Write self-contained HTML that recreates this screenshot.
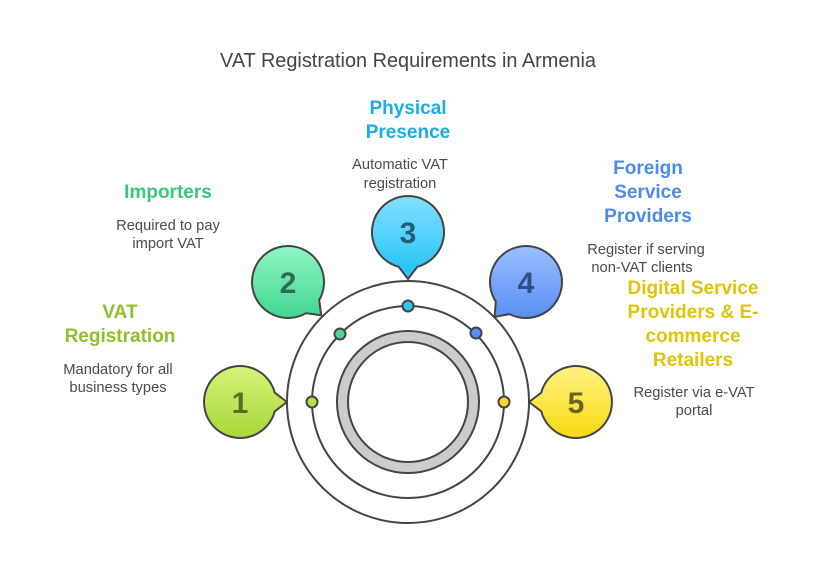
<!DOCTYPE html>
<html><head><meta charset="utf-8"><style>
html,body{margin:0;padding:0;background:#fff;width:816px;height:582px;overflow:hidden}
text{font-family:"Liberation Sans",Arial,sans-serif}
.h{font-size:19px;font-weight:bold;text-anchor:middle}
.d{font-size:14.7px;fill:#4a4a4a;text-anchor:middle}
.n{font-size:30px;font-weight:bold;text-anchor:middle}
</style></head><body>
<svg width="816" height="582" viewBox="0 0 816 582" xmlns="http://www.w3.org/2000/svg">
<defs>
<linearGradient id="g1" gradientUnits="userSpaceOnUse" x1="0" y1="-36" x2="0" y2="36"><stop offset="0" stop-color="#d8f27a"/><stop offset="1" stop-color="#a6d93a"/></linearGradient>
<linearGradient id="g2" gradientUnits="userSpaceOnUse" x1="0" y1="-36" x2="0" y2="36" gradientTransform="rotate(-45)"><stop offset="0" stop-color="#90f7c4"/><stop offset="1" stop-color="#40d690"/></linearGradient>
<linearGradient id="g3" gradientUnits="userSpaceOnUse" x1="0" y1="-36" x2="0" y2="36" gradientTransform="rotate(-90)"><stop offset="0" stop-color="#84e0ff"/><stop offset="1" stop-color="#2cc6f6"/></linearGradient>
<linearGradient id="g4" gradientUnits="userSpaceOnUse" x1="0" y1="-36" x2="0" y2="36" gradientTransform="rotate(-132)"><stop offset="0" stop-color="#98bfff"/><stop offset="1" stop-color="#5a8ef2"/></linearGradient>
<linearGradient id="g5" gradientUnits="userSpaceOnUse" x1="0" y1="-36" x2="0" y2="36" gradientTransform="rotate(-180)"><stop offset="0" stop-color="#fff284"/><stop offset="1" stop-color="#f7da10"/></linearGradient>
</defs>
<text x="408" y="67" style="font-size:19.9px;fill:#444;text-anchor:middle">VAT Registration Requirements in Armenia</text>

<circle cx="408" cy="402" r="121" fill="none" stroke="#444" stroke-width="2"/>
<circle cx="408" cy="402" r="96" fill="none" stroke="#444" stroke-width="2"/>
<circle cx="408" cy="402" r="65.5" fill="none" stroke="#444" stroke-width="13"/>
<circle cx="408" cy="402" r="65.5" fill="none" stroke="#cccccc" stroke-width="9"/>

<g stroke="#444" stroke-width="2">
<circle cx="312" cy="402" r="5.5" fill="#b8e04a"/>
<circle cx="340" cy="334" r="5.5" fill="#48d894"/>
<circle cx="408" cy="306" r="5.5" fill="#2ec8f5"/>
<circle cx="476" cy="333" r="5.5" fill="#5a8ef0"/>
<circle cx="504" cy="402" r="5.5" fill="#f7dc2a"/>
</g>

<g stroke="#444" stroke-width="2" stroke-linejoin="round">
<path transform="translate(240,402) rotate(0)" d="M34.8 -9.3 L47 0 L34.8 9.3 A36 36 0 1 1 34.8 -9.3 Z" fill="url(#g1)"/>
<path transform="translate(288,282) rotate(45)" d="M34.8 -9.3 L47 0 L34.8 9.3 A36 36 0 1 1 34.8 -9.3 Z" fill="url(#g2)"/>
<path transform="translate(408,232) rotate(90)" d="M34.8 -9.3 L47 0 L34.8 9.3 A36 36 0 1 1 34.8 -9.3 Z" fill="url(#g3)"/>
<path transform="translate(526,282) rotate(132)" d="M34.8 -9.3 L47 0 L34.8 9.3 A36 36 0 1 1 34.8 -9.3 Z" fill="url(#g4)"/>
<path transform="translate(576,402) rotate(180)" d="M34.8 -9.3 L47 0 L34.8 9.3 A36 36 0 1 1 34.8 -9.3 Z" fill="url(#g5)"/>
</g>
<text class="n" x="240" y="413" fill="#5a6b2a">1</text>
<text class="n" x="288" y="293" fill="#2e6b50">2</text>
<text class="n" x="408" y="243" fill="#1f5f78">3</text>
<text class="n" x="526" y="293" fill="#2f4f88">4</text>
<text class="n" x="576" y="413" fill="#6b6420">5</text>

<g fill="#1aaee0"><text class="h" x="408" y="114">Physical</text><text class="h" x="408" y="138">Presence</text></g>
<text class="d" x="400" y="169">Automatic VAT</text><text class="d" x="400" y="188">registration</text>

<text class="h" x="168" y="198" fill="#3cc47a">Importers</text>
<text class="d" x="168" y="230">Required to pay</text><text class="d" x="168" y="248">import VAT</text>

<g fill="#4b8bea"><text class="h" x="648" y="174">Foreign</text><text class="h" x="648" y="198">Service</text><text class="h" x="648" y="222">Providers</text></g>
<text class="d" x="646" y="254">Register if serving</text><text class="d" x="642" y="272">non-VAT clients</text>

<g fill="#8fbf2e"><text class="h" x="120" y="318">VAT</text><text class="h" x="120" y="342">Registration</text></g>
<text class="d" x="118" y="374">Mandatory for all</text><text class="d" x="118" y="392">business types</text>

<g fill="#e0c40a"><text class="h" x="693" y="294">Digital Service</text><text class="h" x="693" y="318">Providers &amp; E-</text><text class="h" x="693" y="342">commerce</text><text class="h" x="693" y="366">Retailers</text></g>
<text class="d" x="694" y="397">Register via e-VAT</text><text class="d" x="694" y="415">portal</text>
</svg>
</body></html>
